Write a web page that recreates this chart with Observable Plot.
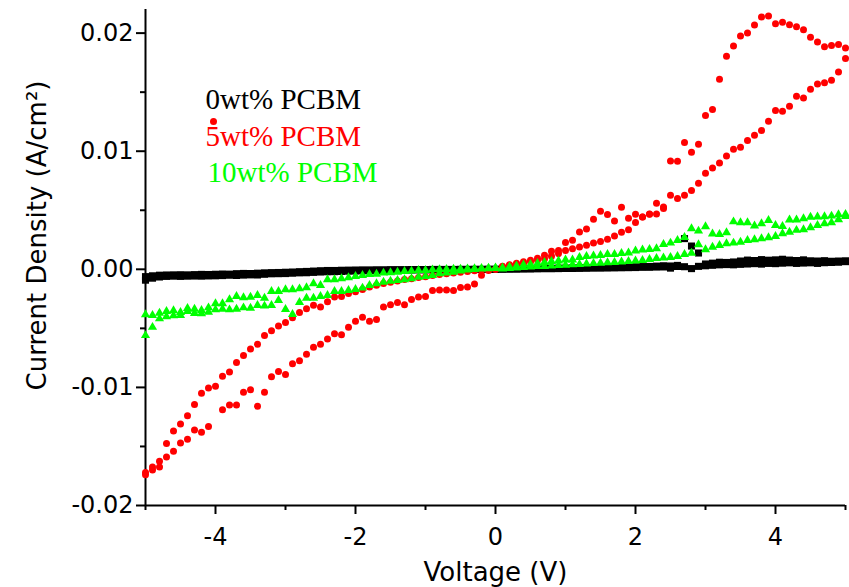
<!DOCTYPE html>
<html><head><meta charset="utf-8">
<script src="https://cdn.jsdelivr.net/npm/d3@7"></script>
<script src="https://cdn.jsdelivr.net/npm/@observablehq/plot@0.6"></script>
<style>html,body{margin:0;padding:0;background:#fff} svg{display:block}</style>
</head><body><div id="chart"></div>
<script>
// Sweep voltages (V)
const voltage = [-5,-4.9,-4.8,-4.7,-4.6,-4.5,-4.4,-4.3,-4.2,-4.1,-4,-3.9,-3.8,-3.7,-3.6,-3.5,-3.4,-3.3,-3.2,-3.1,-3,-2.9,-2.8,-2.7,-2.6,-2.5,-2.4,-2.3,-2.2,-2.1,-2,-1.9,-1.8,-1.7,-1.6,-1.5,-1.4,-1.3,-1.2,-1.1,-1,-0.9,-0.8,-0.7,-0.6,-0.5,-0.4,-0.3,-0.2,-0.1,0,0.1,0.2,0.3,0.4,0.5,0.6,0.7,0.8,0.9,1,1.1,1.2,1.3,1.4,1.5,1.6,1.7,1.8,1.9,2,2.1,2.2,2.3,2.4,2.5,2.6,2.7,2.8,2.9,3,3.1,3.2,3.3,3.4,3.5,3.6,3.7,3.8,3.9,4,4.1,4.2,4.3,4.4,4.5,4.6,4.7,4.8,4.9,5];

// Current density in mA/cm^2 (two sweep branches per sample)
const pcbm0_a = [-0.62,-0.55,-0.5,-0.48,-0.47,-0.46,-0.47,-0.45,-0.43,-0.44,-0.42,-0.4,-0.41,-0.37,-0.35,-0.36,-0.33,-0.3,-0.28,-0.27,-0.25,-0.23,-0.2,-0.18,-0.15,-0.12,-0.1,-0.1,-0.08,-0.07,-0.06,-0.05,-0.05,-0.04,-0.04,-0.03,-0.03,-0.03,-0.02,-0.02,-0.02,-0.01,-0.01,-0.01,-0.01,0,0,0,0,0,0,
  0.02,0.03,0.04,0.05,0.06,0.07,0.08,0.09,0.1,0.1,0.12,0.13,0.14,0.15,0.16,0.17,0.18,0.2,0.21,0.22,0.23,0.24,0.27,0.3,0.28,0.33,2.6,1.97,1.38,0.45,0.52,0.6,0.58,0.62,0.7,0.78,0.74,0.82,0.77,0.8,0.85,0.78,0.74,0.8,0.72,0.7,0.73,0.68,0.7,0.72];
const pcbm0_b = [-0.92,-0.75,-0.65,-0.6,-0.58,-0.6,-0.58,-0.57,-0.58,-0.56,-0.55,-0.53,-0.5,-0.52,-0.49,-0.47,-0.48,-0.42,-0.38,-0.37,-0.36,-0.33,-0.3,-0.29,-0.26,-0.23,-0.21,-0.2,-0.18,-0.16,-0.15,-0.13,-0.12,-0.11,-0.1,-0.09,-0.08,-0.07,-0.06,-0.05,-0.05,-0.04,-0.04,-0.03,-0.03,-0.02,-0.02,-0.01,-0.01,0,0,
  0.01,0.02,0.02,0.03,0.03,0.04,0.05,0.05,0.06,0.07,0.07,0.08,0.09,0.1,0.1,0.11,0.12,0.13,0.14,0.15,0.17,0.17,0.19,0.2,0.1,0.24,0.22,0.06,0.25,0.3,0.34,0.38,0.4,0.38,0.42,0.45,0.48,0.44,0.5,0.48,0.52,0.55,0.5,0.53,0.55,0.5,0.56,0.58,0.6,0.65];

const pcbm5_a = [-17.2,-16.75,-16.25,-14.75,-13.7,-13.1,-12.4,-11.45,-10.5,-10.05,-9.9,-9.05,-8.7,-7.9,-7.3,-6.75,-6.35,-5.6,-5.2,-4.8,-4.5,-4.1,-3.65,-3.35,-3.05,-3.2,-2.75,-2.35,-2.3,-2.05,-1.9,-1.7,-1.5,-1.35,-1.2,-1.1,-1.0,-0.87,-0.79,-0.7,-0.62,-0.53,-0.45,-0.38,-0.31,-0.25,-0.19,-0.13,-0.08,-0.04,0,
  0.25,0.38,0.51,0.64,0.76,0.93,1.19,1.53,1.6,2.26,2.46,3.16,3.42,4.24,4.92,4.64,4.09,5.25,4.32,4.66,4.43,4.66,5.59,5.28,9.18,9.15,10.74,9.92,10.59,13.03,13.53,16.1,18.05,18.9,19.75,20.0,20.68,21.36,21.44,20.79,20.93,20.7,20.53,20.28,19.64,19.24,18.84,18.96,19.04,18.75];
const pcbm5_b = [-17.4,-17.0,-16.75,-15.9,-15.4,-14.7,-14.4,-13.6,-13.8,-13.3,null,-11.9,-11.5,-11.5,-10.4,-10.2,-11.6,-10.4,-9.1,-8.65,-8.9,-8.0,-7.75,-7.2,-6.6,-6.35,-5.9,-5.45,-5.55,-4.9,-4.4,-4.05,-4.4,-4.25,-3.2,-3.0,-2.8,-3.0,-2.55,-2.35,-2.3,-1.8,-1.75,-1.75,-1.8,-1.55,-1.5,-1.25,-0.5,-0.1,0,
  0.2,0.34,0.42,0.5,0.64,0.76,0.89,1.1,1.33,1.6,1.75,1.89,2.03,2.23,2.35,2.54,2.82,3.14,3.36,3.96,4.43,4.69,4.69,5.14,6.27,6.0,6.27,6.67,7.29,8.14,8.58,9.0,9.6,10.17,10.34,10.9,11.36,11.75,12.54,13.45,13.39,13.8,14.66,14.5,15.25,15.7,15.8,16.0,16.7,17.86];

const pcbm10_a = [-3.84,-3.9,-3.7,-3.56,-3.5,-3.64,-3.3,-3.36,-3.47,-3.25,-2.9,-2.9,-2.57,-2.29,-2.4,-2.35,-2.2,-2.43,-1.86,-1.86,-1.72,-1.72,-1.64,-1.55,-1.21,-1.36,-0.87,-0.87,-0.79,-0.7,-0.59,-0.51,-0.42,-0.4,-0.31,-0.28,-0.23,-0.17,-0.14,-0.08,-0.08,-0.03,-0.01,0.0,0.02,0.03,0.05,0.06,0.08,0.1,0.12,
  0.13,0.21,0.3,0.38,0.42,0.51,0.59,0.68,0.72,0.81,0.81,1.02,1.1,1.14,1.19,1.27,1.27,1.36,1.4,1.57,1.65,1.69,1.75,2.12,2.23,2.46,2.71,3.45,3.25,3.62,3.01,2.97,3.11,4.03,3.96,3.96,3.69,3.87,4.15,3.73,3.64,4.19,4.19,4.3,4.43,4.45,4.47,4.52,4.64,4.66];
const pcbm10_b = [-5.6,-4.9,-4.18,-4.0,-3.92,-3.9,-3.56,-3.73,-3.75,-3.62,-3.42,-3.36,-3.42,-3.36,-3.25,-3.28,-3.05,-3.1,-3.05,-2.63,-3.39,-3.81,-2.8,-2.43,-2.43,-2.29,-2.2,-1.86,-1.86,-1.78,-1.69,-1.58,-1.36,-1.21,-1.08,-0.99,-0.93,-0.87,-0.79,-0.65,-0.59,-0.51,-0.36,-0.31,-0.23,-0.14,-0.05,0.0,0.03,0.06,0.08,
  0.04,0.08,0.13,0.17,0.21,0.24,0.25,0.3,0.34,0.36,0.4,0.42,0.47,0.51,0.53,0.57,0.59,0.64,0.68,0.72,0.76,0.85,0.93,0.97,1.02,1.1,1.27,1.38,2.09,1.67,1.89,2.03,2.18,2.23,2.31,2.46,2.52,2.6,2.69,2.8,3.03,3.16,3.31,3.36,3.53,3.73,3.87,3.96,4.21,4.49];

const seriesNames = ["0wt% PCBM", "5wt% PCBM", "10wt% PCBM"];
const seriesColors = ["#000000", "#ff0000", "#00ff00"];
const yTicks = [-0.02, -0.01, 0, 0.01, 0.02];
const yMinorTicks = [-0.015, -0.005, 0.005, 0.015];
const xTicks = [-4, -2, 0, 2, 4];
const xMinorTicks = [-5, -3, -1, 1, 3, 5];

function rows(a, b) {
  const out = [];
  voltage.forEach((v, i) => {
    if (a[i] != null) out.push({v, j: a[i] / 1000});
    if (b[i] != null) out.push({v, j: b[i] / 1000});
  });
  return out;
}

const legendFont = "'Liberation Serif', 'Times New Roman', serif";

const chart = Plot.plot({
  width: 849,
  height: 587,
  marginLeft: 145,
  marginRight: 4,
  marginTop: 9,
  marginBottom: 82,
  style: {background: "white", fontFamily: "'DejaVu Sans', sans-serif", color: "black"},
  x: {domain: [-5, 5], label: null},
  y: {domain: [-0.02, 0.022], label: null},
  marks: [
    Plot.axisY(yMinorTicks, {tickSize: 5, tickFormat: () => "", strokeWidth: 2, label: null}),
    Plot.axisY(yTicks, {tickSize: 9, tickPadding: 3, tickFormat: d => d.toFixed(2), fontSize: 24, strokeWidth: 2, label: null}),
    Plot.axisX(xMinorTicks, {tickSize: 5, tickFormat: () => "", strokeWidth: 2, label: null}),
    Plot.axisX(xTicks, {tickSize: 9, tickPadding: 13, tickFormat: d => String(d), fontSize: 24, strokeWidth: 2, label: null}),
    Plot.ruleX([-5], {strokeWidth: 2}),
    Plot.ruleY([-0.02], {strokeWidth: 2}),
    Plot.dot(rows(pcbm0_a, pcbm0_b), {x: "v", y: "j", symbol: "square", r: 4, fill: seriesColors[0], stroke: "none"}),
    Plot.dot(rows(pcbm5_a, pcbm5_b), {x: "v", y: "j", symbol: "circle", r: 3.5, fill: seriesColors[1], stroke: "none"}),
    Plot.dot(rows(pcbm10_a, pcbm10_b), {x: "v", y: "j", symbol: "triangle", r: 3.4, fill: seriesColors[2], stroke: "none"}),
    Plot.text(["Voltage (V)"], {frameAnchor: "bottom", dy: 67, textAnchor: "middle", lineAnchor: "middle", fontSize: 26, fill: "black"}),
    Plot.text(["Current Density (A/cm²)"], {frameAnchor: "left", dx: -108, dy: -22, rotate: -90, textAnchor: "middle", lineAnchor: "middle", fontSize: 26, fill: "black"}),
    Plot.text([seriesNames[0]], {frameAnchor: "top-left", dx: 60, dy: 90, textAnchor: "start", lineAnchor: "middle", fontSize: 29, fontFamily: legendFont, fill: seriesColors[0]}),
    Plot.text([seriesNames[1]], {frameAnchor: "top-left", dx: 60, dy: 127, textAnchor: "start", lineAnchor: "middle", fontSize: 29, fontFamily: legendFont, fill: seriesColors[1]}),
    Plot.text([seriesNames[2]], {frameAnchor: "top-left", dx: 62, dy: 163, textAnchor: "start", lineAnchor: "middle", fontSize: 29, fontFamily: legendFont, fill: seriesColors[2]}),
    Plot.dot([0], {frameAnchor: "top-left", dx: 68, dy: 112, r: 3.5, fill: seriesColors[1], stroke: "none"})
  ]
});
document.getElementById("chart").appendChild(chart);
</script>
</body></html>
